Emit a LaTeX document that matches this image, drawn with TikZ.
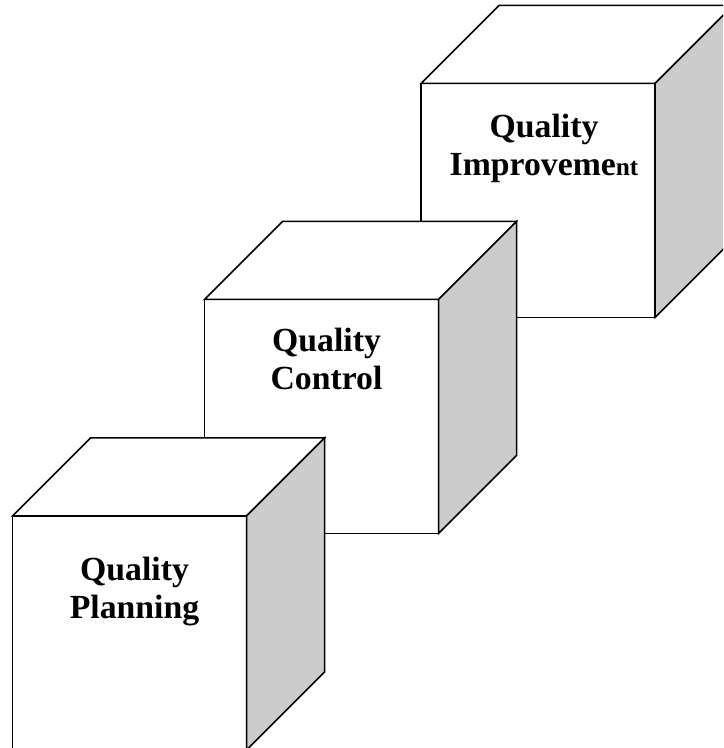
\documentclass[tikz,border=0pt]{standalone}
\usepackage{fontspec}
\setmainfont{Liberation Serif}
\usepackage{tikz}
\usetikzlibrary{positioning}

\begin{document}
\begin{tikzpicture}[
    face/.style={rectangle, draw, fill=white, minimum size=4.68cm, inner sep=0pt, outer sep=0pt, line width=0.85pt},
    topface/.style={draw, fill=white, line width=0.85pt},
    sideface/.style={draw, fill=black!20, line width=0.85pt},
    title/.style={align=center, inner sep=0pt, font=\fontsize{19.2}{21.6}\selectfont\bfseries}
]

% Frame
\useasboundingbox (0,0) rectangle (14.46,14.96);
\clip (0,0) rectangle (14.46,14.96);

% Quality Improvement
\node[face] (improve) at (10.76,10.95) {};
\draw[topface] (improve.north west) -- ++(1.56,1.56) -- ++(4.68,0) -- (improve.north east) -- cycle;
\draw[sideface] (improve.north east) -- ++(1.56,1.56) -- ++(0,-4.68) -- (improve.south east) -- cycle;
\node[title, below=0.6cm of improve.north, xshift=0.12cm] (improveText) {Quality\\Improveme{\fontsize{14.4}{21.6}\selectfont nt}};

% Quality Control
\node[face] (control) at (6.43,6.63) {};
\draw[topface] (control.north west) -- ++(1.56,1.56) -- ++(4.68,0) -- (control.north east) -- cycle;
\draw[sideface] (control.north east) -- ++(1.56,1.56) -- ++(0,-4.68) -- (control.south east) -- cycle;
\node[title, below=0.56cm of control.north, xshift=0.1cm] (controlText) {Quality\\Control};

% Quality Planning
\node[face] (plan) at (2.59,2.30) {};
\draw[topface] (plan.north west) -- ++(1.56,1.56) -- ++(4.68,0) -- (plan.north east) -- cycle;
\draw[sideface] (plan.north east) -- ++(1.56,1.56) -- ++(0,-4.68) -- (plan.south east) -- cycle;
\node[title, below=0.81cm of plan.north, xshift=0.1cm] (planText) {Quality\\Planning};

\end{tikzpicture}
\end{document}
